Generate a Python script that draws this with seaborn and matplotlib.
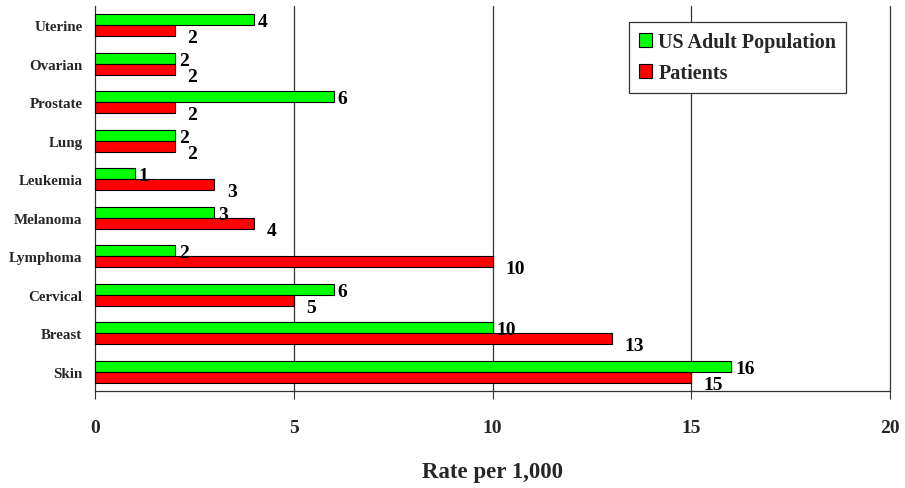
import matplotlib
matplotlib.use("Agg")
import matplotlib.pyplot as plt
import seaborn as sns
import pandas as pd
from matplotlib.patches import Patch

categories = ["Uterine", "Ovarian", "Prostate", "Lung", "Leukemia",
              "Melanoma", "Lymphoma", "Cervical", "Breast", "Skin"]
us_adult = [4, 2, 6, 2, 1, 3, 2, 6, 10, 16]
patients = [2, 2, 2, 2, 3, 4, 10, 5, 13, 15]
series = ["US Adult Population", "Patients"]
colors = ["#00ff00", "#ff0000"]
x_ticks = [0, 5, 10, 15, 20]

df = pd.DataFrame({
    "cancer": categories * 2,
    "rate": us_adult + patients,
    "group": [series[0]] * len(categories) + [series[1]] * len(categories),
})

sns.set_theme(style="white")
plt.rcParams["font.family"] = ["Liberation Serif", "DejaVu Serif"]
plt.rcParams["font.weight"] = "bold"

fig = plt.figure(figsize=(9.05, 4.89), dpi=100)
ax = fig.add_axes([95 / 905, 1 - 392 / 489, 795 / 905, 385 / 489])

sns.barplot(data=df, y="cancer", x="rate", hue="group", order=categories,
            hue_order=series, palette=colors, orient="h", width=0.57,
            edgecolor="black", linewidth=0.8, saturation=1, ax=ax,
            legend=False, zorder=3)

ax.set_xlim(0, 20)
ax.set_ylim(len(categories) - 0.5, -0.5)
ax.set_xticks(x_ticks)
ax.set_xticklabels([str(t) for t in x_ticks], fontsize=14, fontweight="bold")
ax.tick_params(axis="x", direction="out", length=6, width=0.8, color="#333333",
               pad=14, bottom=True)
ax.tick_params(axis="y", length=0, pad=9, labelsize=10.8)
for lab in ax.get_yticklabels():
    lab.set_fontweight("bold")

for t in x_ticks[1:]:
    ax.axvline(t, color="#333333", lw=0.9, zorder=1, clip_on=False)

for side in ["top", "right"]:
    ax.spines[side].set_visible(False)
for side in ["left", "bottom"]:
    ax.spines[side].set_color("#333333")
    ax.spines[side].set_linewidth(0.9)

ax.set_ylabel("")
ax.set_xlabel("Rate per 1,000", fontsize=16.5, fontweight="bold", labelpad=18)

# value labels: green ones sit just after the bar end, red ones a little lower and further right
offsets = [(3, -1.5), (9, -5)]
for container, (dx, dy) in zip(ax.containers, offsets):
    for bar in container:
        w = bar.get_width()
        yc = bar.get_y() + bar.get_height() / 2
        ax.annotate(f"{w:g}", (w, yc), xytext=(dx, dy), textcoords="offset points",
                    ha="left", va="center", fontsize=14, fontweight="bold",
                    color="black", zorder=5)

handles = [Patch(facecolor=c, edgecolor="black", linewidth=0.8) for c in colors]
leg = ax.legend(handles, series, loc="upper left", bbox_to_anchor=(534 / 795, 1 - 16 / 385),
                frameon=True, fancybox=False, edgecolor="#333333", framealpha=1,
                prop={"size": 14.5, "weight": "bold"}, handlelength=0.65,
                handleheight=0.65, handletextpad=0.3, labelspacing=0.55,
                borderpad=0.5, borderaxespad=0)
leg.get_frame().set_linewidth(0.9)

fig.savefig("out.png", dpi=100)
